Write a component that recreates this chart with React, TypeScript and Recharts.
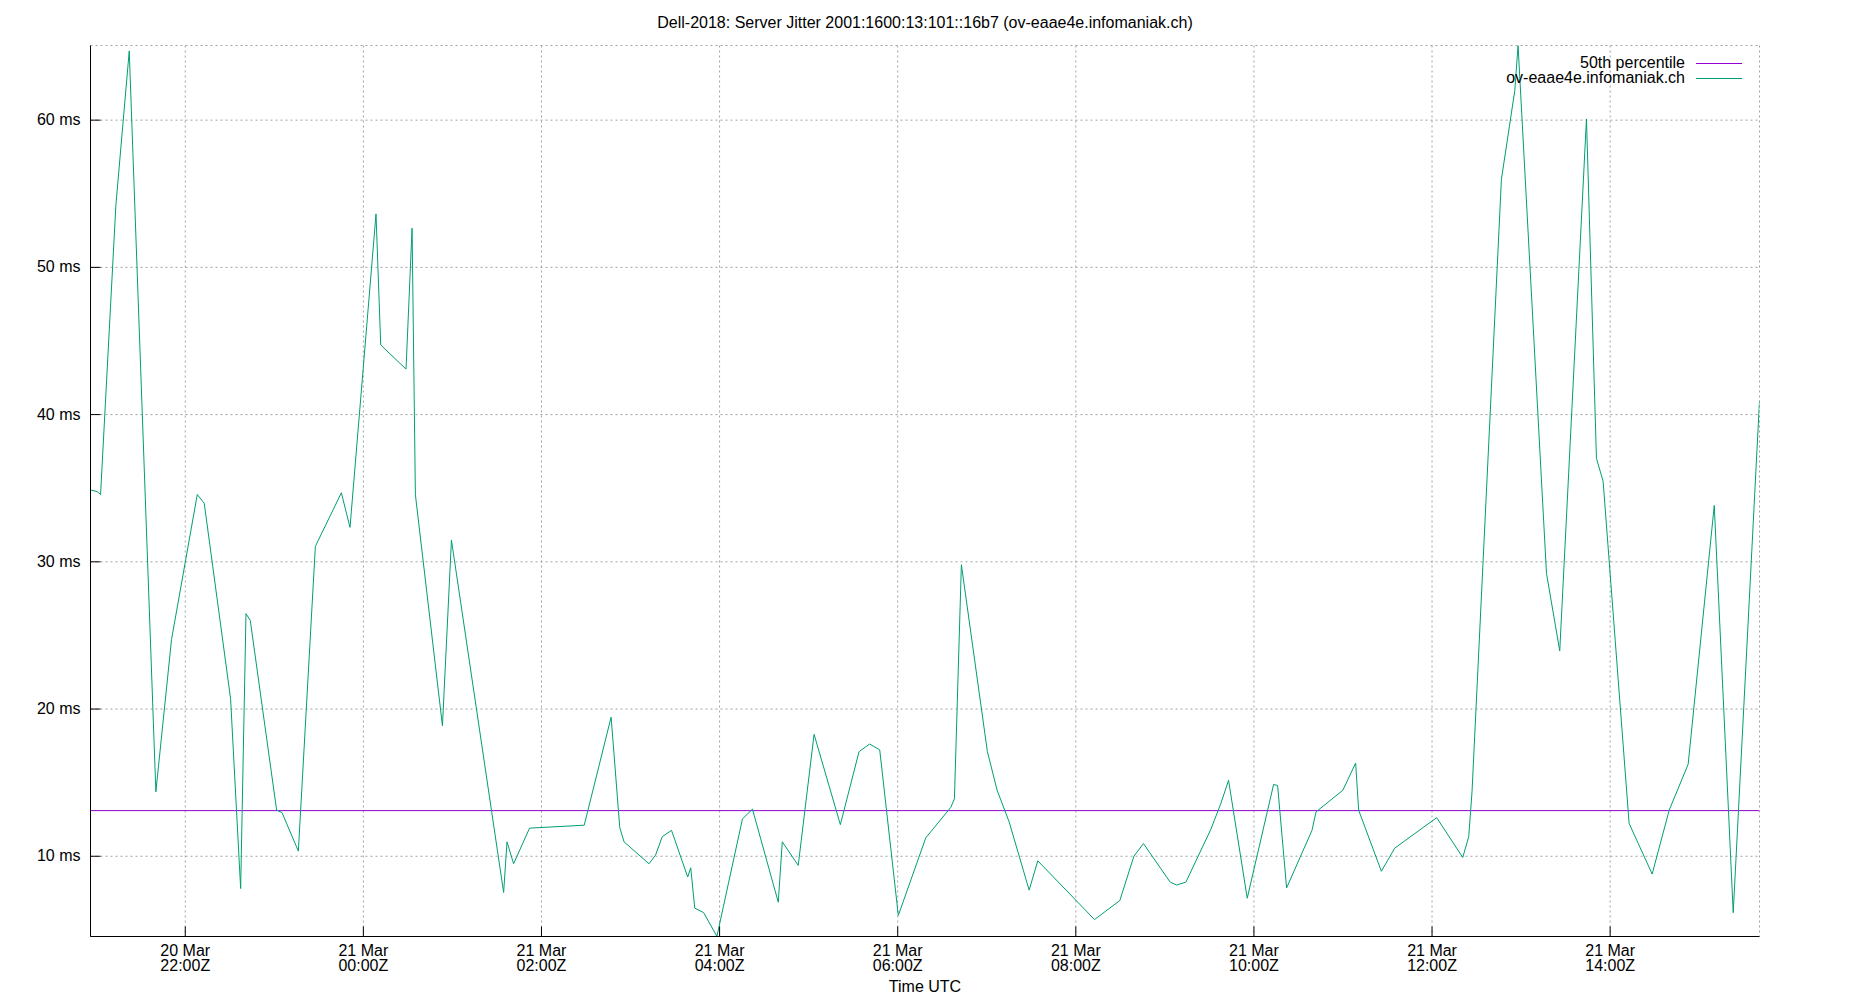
import React from 'react';
import { LineChart, Line, XAxis, YAxis, CartesianGrid, ReferenceLine, Legend } from 'recharts';

const FONT = '"Liberation Sans", Arial, Helvetica, sans-serif';

const TITLE = 'Dell-2018: Server Jitter 2001:1600:13:101::16b7 (ov-eaae4e.infomaniak.ch)';
const X_LABEL = 'Time UTC';
const SERIES_NAME = 'ov-eaae4e.infomaniak.ch';
const P50_NAME = '50th percentile';

const GREEN = '#009e73';
const PURPLE = '#9400d3';

// time in hours since 20 Mar 00:00Z
const hours = [
  20.936, 21.011, 21.049, 21.221, 21.371, 21.670, 21.846, 22.135, 22.213, 22.509,
  22.622, 22.682, 22.730, 23.026, 23.086, 23.270, 23.461, 23.753, 23.850, 24.142,
  24.195, 24.479, 24.547, 24.584, 24.888, 24.989, 25.575, 25.613, 25.687, 25.866,
  26.480, 26.782, 26.879, 26.927, 27.207, 27.281, 27.356, 27.460, 27.642, 27.676,
  27.721, 27.821, 27.970, 28.257, 28.369, 28.659, 28.704, 28.883, 29.061, 29.356,
  29.566, 29.685, 29.798, 30.007, 30.315, 30.596, 30.637, 30.715, 31.007, 31.116,
  31.251, 31.476, 31.573, 32.210, 32.494, 32.652, 32.760, 33.060, 33.131, 33.236,
  33.517, 33.629, 33.715, 33.925, 34.221, 34.266, 34.367, 34.652, 34.697, 34.999,
  35.142, 35.176, 35.431, 35.581, 36.052, 36.345, 36.412, 36.449, 36.779, 36.929,
  36.966, 37.285, 37.434, 37.734, 37.846, 37.921, 38.213, 38.472, 38.663, 38.876,
  39.169, 39.382, 39.677,
];

// jitter in ms
const jitterMs = [
  34.88, 34.77, 34.57, 54.22, 64.7, 14.38, 24.73, 34.57, 33.98, 20.70,
  7.81, 26.48, 26.02, 13.13, 12.97, 10.35, 31.05, 34.69, 32.34, 53.63,
  44.73, 43.09, 52.66, 34.57, 18.87, 31.48, 7.54, 10.98, 9.49, 11.91,
  12.11, 19.45, 11.95, 10.98, 9.49, 10.08, 11.33, 11.76, 8.59, 9.22,
  6.48, 6.17, 4.56, 12.54, 13.20, 6.88, 10.98, 9.38, 18.28, 12.15,
  17.11, 17.62, 17.23, 5.98, 11.25, 13.32, 13.91, 29.80, 17.11, 14.49,
  12.34, 7.70, 9.69, 5.70, 6.99, 10.0, 10.86, 8.24, 8.05, 8.24,
  11.84, 13.59, 15.16, 7.15, 14.88, 14.80, 7.85, 11.76, 13.01, 14.49,
  16.33, 13.13, 8.98, 10.55, 12.62, 9.92, 11.33, 14.38, 55.98, 62.0,
  65.07, 29.22, 23.95, 60.08, 37.03, 35.47, 12.23, 8.79, 13.13, 16.25,
  33.83, 6.17, 40.94,
];

const p50Ms = 13.1;

const xTicks = [22, 24, 26, 28, 30, 32, 34, 36, 38];
const xTickDay = ['20 Mar', '21 Mar', '21 Mar', '21 Mar', '21 Mar', '21 Mar', '21 Mar', '21 Mar', '21 Mar'];
const xTickTime = ['22:00Z', '00:00Z', '02:00Z', '04:00Z', '06:00Z', '08:00Z', '10:00Z', '12:00Z', '14:00Z'];
const yTicks = [10, 20, 30, 40, 50, 60];

const X_DOMAIN = [20.936, 39.677];
const Y_DOMAIN = [4.55, 65.07];

const legendItems = [
  { name: P50_NAME, color: PURPLE },
  { name: SERIES_NAME, color: GREEN },
];

const data = hours.map((t, i) => ({ t, v: jitterMs[i] }));

const textStyle = { fontFamily: FONT, fontSize: 16, fill: '#000' };

const BottomTick = (props: any) => {
  const { x, y, payload } = props;
  const i = xTicks.indexOf(payload.value);
  return (
    <g>
      <line x1={x} x2={x} y1={y} y2={y - 10} stroke="#000" strokeWidth={1} />
      <text x={x} y={y + 19.5} textAnchor="middle" style={textStyle}>{xTickDay[i]}</text>
      <text x={x} y={y + 34.5} textAnchor="middle" style={textStyle}>{xTickTime[i]}</text>
    </g>
  );
};

const TopTick = (props: any) => {
  const { x, y } = props;
  return <line x1={x} x2={x} y1={y} y2={y + 10} stroke="#000" strokeWidth={1} />;
};

const LeftTick = (props: any) => {
  const { x, y, payload } = props;
  return (
    <g>
      <line x1={x} x2={x + 10} y1={y} y2={y} stroke="#000" strokeWidth={1} />
      <text x={x - 10} y={y + 5} textAnchor="end" style={textStyle}>{`${payload.value} ms`}</text>
    </g>
  );
};

const LegendContent = () => (
  <svg width={1850} height={100} style={{ display: 'block' }}>
    {legendItems.map((it, i) => (
      <g key={it.name}>
        <text x={1685} y={68 + i * 15} textAnchor="end" style={textStyle}>{it.name}</text>
        <line x1={1696} x2={1742} y1={63.5 + i * 15} y2={63.5 + i * 15} stroke={it.color} strokeWidth={1} />
      </g>
    ))}
  </svg>
);

export default function App() {
  return (
    <div style={{ position: 'absolute', left: 0, top: 0, width: 1850, height: 1000, background: '#fff' }}>
      <LineChart
        width={1850}
        height={1000}
        data={data}
        margin={{ top: 45.5, right: 90.5, bottom: 13.5, left: 10.5 }}
      >
        <CartesianGrid
          xAxisId="bottom"
          yAxisId="l"
          stroke="#a0a0a0"
          strokeDasharray="2 3"
          strokeWidth={1}
        />
        <XAxis
          xAxisId="bottom"
          dataKey="t"
          type="number"
          domain={X_DOMAIN}
          ticks={xTicks}
          interval={0}
          allowDataOverflow
          height={50}
          tickSize={0}
          tickMargin={0}
          tickLine={false}
          axisLine={{ stroke: '#000', strokeWidth: 1 }}
          tick={BottomTick}
        />
        <XAxis
          xAxisId="top"
          orientation="top"
          dataKey="t"
          type="number"
          domain={X_DOMAIN}
          ticks={xTicks}
          interval={0}
          allowDataOverflow
          height={0}
          tickSize={0}
          tickMargin={0}
          tickLine={false}
          axisLine={{ stroke: '#000', strokeWidth: 1 }}
          tick={TopTick}
        />
        <YAxis
          yAxisId="l"
          type="number"
          domain={Y_DOMAIN}
          ticks={yTicks}
          interval={0}
          allowDataOverflow
          width={80}
          tickSize={0}
          tickMargin={0}
          tickLine={false}
          axisLine={{ stroke: '#000', strokeWidth: 1 }}
          tick={LeftTick}
        />
        <YAxis
          yAxisId="r"
          orientation="right"
          type="number"
          domain={Y_DOMAIN}
          allowDataOverflow
          width={0}
          tick={false}
          tickLine={false}
          axisLine={{ stroke: '#000', strokeWidth: 1 }}
        />
        <ReferenceLine
          xAxisId="bottom"
          yAxisId="l"
          y={p50Ms}
          stroke={PURPLE}
          strokeWidth={1}
          ifOverflow="hidden"
        />
        <Line
          xAxisId="bottom"
          yAxisId="l"
          type="linear"
          dataKey="v"
          name={SERIES_NAME}
          stroke={GREEN}
          strokeWidth={1}
          dot={false}
          activeDot={false}
          isAnimationActive={false}
        />
        <Legend
          layout="vertical"
          align="center"
          verticalAlign="middle"
          wrapperStyle={{ position: 'absolute', left: 0, top: 0, width: 1850, height: 100 }}
          content={LegendContent}
        />
      </LineChart>
      <div
        style={{
          position: 'absolute',
          left: 0,
          top: 14.5,
          width: 1850,
          textAlign: 'center',
          fontFamily: FONT,
          fontSize: 16,
          lineHeight: '16px',
          color: '#000',
          whiteSpace: 'pre',
        }}
      >
        {TITLE}
      </div>
      <div
        style={{
          position: 'absolute',
          left: 0,
          top: 979,
          width: 1850,
          textAlign: 'center',
          fontFamily: FONT,
          fontSize: 16,
          lineHeight: '16px',
          color: '#000',
        }}
      >
        {X_LABEL}
      </div>
    </div>
  );
}
